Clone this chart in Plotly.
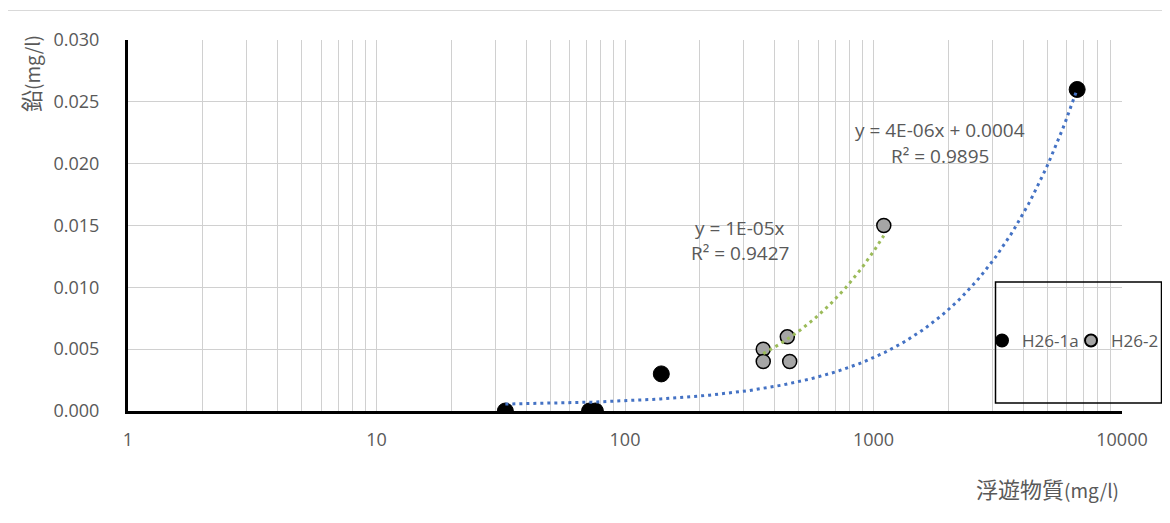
import numpy as np
import plotly.graph_objects as go

# ---- data ----
s1_name = "H26-1a"
s1_x = [33, 72, 76, 140, 6600]
s1_y = [0.000, 0.000, 0.000, 0.003, 0.026]

s2_name = "H26-2"
s2_x = [360, 360, 450, 460, 1100]
s2_y = [0.005, 0.004, 0.006, 0.004, 0.015]

x_tick_vals = [1, 10, 100, 1000, 10000]
x_tick_text = ["1", "10", "100", "1000", "10000"]
y_tick_vals = [0.000, 0.005, 0.010, 0.015, 0.020, 0.025, 0.030]
y_tick_text = ["0.000", "0.005", "0.010", "0.015", "0.020", "0.025", "0.030"]

eq1_text = ["y = 4E-06x + 0.0004", "R² = 0.9895"]
eq2_text = ["y = 1E-05x", "R² = 0.9427"]
x_title_cjk, x_title_unit = "浮遊物質", "(mg/l)"
y_title_cjk, y_title_unit = "鉛", "(mg/l)"

# ---- layout geometry (screen pixels; the page body adds an 8px offset) ----
OFF = 8
W, H = 1170 - OFF, 523 - OFF
L, R, T, B = 128 - OFF, 1122 - OFF, 40 - OFF, 411 - OFF


def px(x):
    return (x - OFF - L) / (R - L)


def py(y):
    return (B - (y - OFF)) / (B - T)


GRAY_TXT = "#595959"
FONT = "Open Sans, Noto Sans, Noto Sans CJK JP, sans-serif"
CJK = "Noto Sans CJK JP, Open Sans, sans-serif"

# ---- trendlines computed from data ----
a1, b1 = np.polyfit(np.array(s1_x, float), np.array(s1_y, float), 1)
xs1 = np.logspace(np.log10(min(s1_x)), np.log10(max(s1_x)), 200)
ys1 = a1 * xs1 + b1

x2 = np.array(s2_x, float)
y2 = np.array(s2_y, float)
k2 = (x2 * y2).sum() / (x2 * x2).sum()  # through origin
xs2 = np.logspace(np.log10(min(s2_x)), np.log10(max(s2_x)), 200)
ys2 = k2 * xs2

fig = go.Figure()

fig.add_trace(go.Scatter(
    x=s1_x, y=s1_y, mode="markers", name=s1_name,
    marker=dict(size=16, color="#000000", line=dict(color="#000000", width=1)),
))
fig.add_trace(go.Scatter(
    x=s2_x, y=s2_y, mode="markers", name=s2_name,
    marker=dict(size=14, color="#A5A5A5", line=dict(color="#000000", width=1.5)),
))
fig.add_trace(go.Scatter(
    x=xs1, y=ys1, mode="lines", showlegend=False, hoverinfo="skip",
    line=dict(color="#4472C4", width=3, dash="3px,4px"),
))
fig.add_trace(go.Scatter(
    x=xs2, y=ys2, mode="lines", showlegend=False, hoverinfo="skip",
    line=dict(color="#9BBB59", width=3, dash="3px,4px"),
))

minor_vals = [m * 10 ** e for e in range(0, 4) for m in range(2, 10)]

fig.update_xaxes(
    type="log", range=[0, 4],
    tickvals=x_tick_vals, ticktext=x_tick_text, ticks="",
    showgrid=True, gridcolor="#D0D0D0", gridwidth=1.3,
    minor=dict(tickvals=minor_vals, showgrid=True, gridcolor="#D0D0D0", gridwidth=1.3, ticks=""),
    showline=True, linecolor="#000000", linewidth=3,
    zeroline=False,
    tickfont=dict(family=FONT, size=18, color=GRAY_TXT),
    ticklabelstandoff=10,
)
fig.update_yaxes(
    range=[0, 0.030],
    tickvals=y_tick_vals, ticktext=y_tick_text, ticks="",
    showgrid=True, gridcolor="#D0D0D0", gridwidth=1.3,
    showline=True, linecolor="#000000", linewidth=3,
    zeroline=False,
    tickfont=dict(family=FONT, size=18, color=GRAY_TXT),
    ticklabelstandoff=22,
)


def title_text(cjk, unit):
    return f'<span style="font-size:22px">{cjk}</span>{unit}'


annotations = [
    dict(text=title_text(y_title_cjk, y_title_unit), xref="paper", yref="paper",
         x=px(30), y=py(74),
         textangle=-90, showarrow=False, xanchor="center", yanchor="middle",
         font=dict(family=CJK, size=19, color=GRAY_TXT)),
    dict(text=title_text(x_title_cjk, x_title_unit), xref="paper", yref="paper",
         x=px(1047), y=py(488),
         showarrow=False, xanchor="center", yanchor="middle",
         font=dict(family=CJK, size=19, color=GRAY_TXT)),
    dict(text=eq1_text[0], xref="paper", yref="paper", x=px(940), y=py(130),
         showarrow=False, xanchor="center", yanchor="middle",
         font=dict(family=FONT, size=19, color=GRAY_TXT)),
    dict(text=eq1_text[1], xref="paper", yref="paper", x=px(940), y=py(156),
         showarrow=False, xanchor="center", yanchor="middle",
         font=dict(family=FONT, size=19, color=GRAY_TXT)),
    dict(text=eq2_text[0], xref="paper", yref="paper", x=px(740), y=py(228),
         showarrow=False, xanchor="center", yanchor="middle",
         font=dict(family=FONT, size=19, color=GRAY_TXT)),
    dict(text=eq2_text[1], xref="paper", yref="paper", x=px(740), y=py(253),
         showarrow=False, xanchor="center", yanchor="middle",
         font=dict(family=FONT, size=19, color=GRAY_TXT)),
]

shapes = [
    # outer chart border (only left/top visible in frame)
    dict(type="rect", xref="paper", yref="paper",
         x0=px(7.5), x1=px(1200), y0=py(560), y1=py(10.5),
         line=dict(color="#D9D9D9", width=1), layer="below"),
    # legend box
    dict(type="rect", xref="paper", yref="paper",
         x0=px(995.5), x1=px(1161.5), y0=py(403), y1=py(282),
         line=dict(color="#000000", width=1.5), layer="above"),
]

fig.update_layout(
    width=W, height=H,
    margin=dict(l=L, r=W - R, t=T, b=H - B, pad=0, autoexpand=False),
    paper_bgcolor="#FFFFFF", plot_bgcolor="#FFFFFF",
    showlegend=True,
    legend=dict(
        orientation="h", x=px(982), y=py(341), xanchor="left", yanchor="middle",
        bgcolor="rgba(0,0,0,0)", borderwidth=0,
        font=dict(family=FONT, size=17, color=GRAY_TXT),
        itemsizing="constant", itemwidth=30, tracegroupgap=0,
        entrywidth=44, entrywidthmode="pixels",
    ),
    annotations=annotations,
    shapes=shapes,
)

fig.write_html("out.html")
